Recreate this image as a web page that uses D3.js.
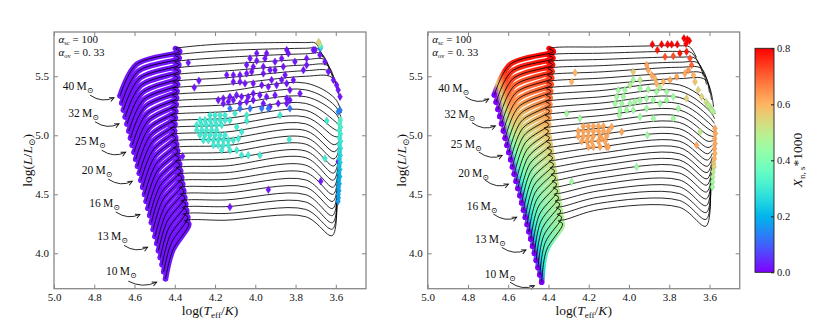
<!DOCTYPE html>
<html>
<head>
<meta charset="utf-8">
<script src="https://cdn.jsdelivr.net/npm/d3@7"></script>
<style>
  body { margin: 0; background: #fff; }
  svg { display: block; }
  text { font-family: "Liberation Serif", "DejaVu Serif", serif; fill: #111; }
</style>
</head>
<body>
<div id="chart"></div>
<script>
// axis ticks
const logTTicks = [5.0, 4.8, 4.6, 4.4, 4.2, 4.0, 3.8, 3.6];
const logLTicks = [4.0, 4.5, 5.0, 5.5];
const cbarTicks = [0.0, 0.2, 0.4, 0.6, 0.8];

// evolutionary tracks, 10 -> 40 Msun (key points)
const zamsT = [4.446,4.455,4.463,4.472,4.481,4.489,4.498,4.507,4.516,4.524,4.533,4.542,4.550,4.559,4.568,4.576,4.585,4.594,4.602,4.611,4.620,4.628,4.637,4.646,4.655,4.663,4.672];
const zamsL = [3.784,3.844,3.903,3.963,4.022,4.082,4.142,4.201,4.261,4.320,4.380,4.440,4.499,4.559,4.618,4.678,4.738,4.797,4.857,4.916,4.976,5.036,5.095,5.155,5.214,5.274,5.334];
const midT  = [4.410,4.417,4.424,4.431,4.438,4.444,4.451,4.459,4.466,4.472,4.479,4.487,4.493,4.500,4.507,4.514,4.521,4.528,4.534,4.541,4.549,4.555,4.562,4.569,4.576,4.583,4.590];
const midL  = [4.026,4.088,4.148,4.210,4.270,4.332,4.393,4.453,4.515,4.575,4.636,4.697,4.757,4.818,4.878,4.939,4.999,5.059,5.120,5.180,5.240,5.301,5.360,5.421,5.480,5.541,5.601];
const tamsT = [4.330,4.335,4.340,4.345,4.350,4.355,4.360,4.365,4.370,4.375,4.380,4.385,4.390,4.395,4.400,4.398,4.396,4.394,4.392,4.390,4.388,4.385,4.383,4.381,4.379,4.377,4.375];
const tamsL = [4.250,4.306,4.362,4.418,4.475,4.531,4.587,4.643,4.699,4.755,4.811,4.868,4.924,4.980,5.036,5.092,5.148,5.204,5.261,5.316,5.373,5.429,5.485,5.541,5.597,5.653,5.710];
const hookShift = [[0.022, 0.025], [-0.012, 0.035]];
const crossT = [4.15, 3.75];
const crossLa = [4.280,4.337,4.395,4.452,4.510,4.567,4.625,4.682,4.740,4.797,4.855,4.912,4.970,5.027,5.085,5.142,5.200,5.257,5.315,5.372,5.430,5.487,5.545,5.602,5.660,5.717,5.775];
const crossLb = [4.310,4.372,4.435,4.497,4.560,4.622,4.685,4.747,4.810,4.867,4.925,4.982,5.040,5.097,5.155,5.212,5.270,5.327,5.385,5.442,5.500,5.547,5.595,5.642,5.690,5.737,5.785];
const minT = [3.618,3.617,3.616,3.616,3.615,3.614,3.613,3.612,3.612,3.611,3.610,3.609,3.608,3.608,3.607,3.606,3.605,3.604,3.604,3.603,3.620,3.630,3.640,3.655,3.670,3.690,3.700];
const minL = [4.150,4.205,4.260,4.320,4.380,4.440,4.500,4.560,4.620,4.680,4.740,4.800,4.860,4.920,4.990,5.050,5.120,5.190,5.250,5.310,5.490,5.540,5.590,5.640,5.690,5.735,5.780];
const endT = [3.595,3.594,3.593,3.592,3.591,3.590,3.589,3.588,3.587,3.586,3.585,3.584,3.583,3.582,3.580,3.578,3.577,3.576,3.574,3.572,3.580,3.590,3.600,3.615,3.630,3.645,3.665];
const endL = [4.430,4.470,4.510,4.550,4.590,4.630,4.670,4.710,4.750,4.790,4.830,4.870,4.910,4.950,4.990,5.030,5.070,5.110,5.150,5.190,5.300,5.360,5.420,5.480,5.540,5.600,5.660];

// right panel tracks differ a little (ZAMS and post-MS luminosity)
const rZamsT = [4.434,4.443,4.452,4.461,4.470,4.479,4.488,4.497,4.506,4.515,4.524,4.533,4.542,4.552,4.561,4.570,4.579,4.588,4.597,4.606,4.615,4.624,4.633,4.642,4.651,4.660,4.669];
const rZamsL = [3.755,3.816,3.877,3.938,3.999,4.060,4.121,4.182,4.243,4.304,4.365,4.426,4.487,4.548,4.609,4.670,4.731,4.792,4.853,4.914,4.975,5.036,5.097,5.158,5.219,5.280,5.341];
const rCrossLa = [4.370,4.423,4.476,4.529,4.582,4.635,4.688,4.741,4.794,4.847,4.900,4.953,5.006,5.059,5.112,5.165,5.218,5.271,5.324,5.377,5.430,5.483,5.536,5.589,5.642,5.695,5.748];
const rCrossLb = [4.390,4.448,4.506,4.564,4.622,4.680,4.738,4.791,4.844,4.897,4.950,5.003,5.056,5.109,5.162,5.215,5.268,5.321,5.374,5.427,5.480,5.528,5.576,5.619,5.662,5.710,5.758];
const rMinL = [4.230,4.288,4.346,4.404,4.462,4.520,4.578,4.631,4.684,4.737,4.790,4.843,4.896,4.949,5.002,5.055,5.108,5.161,5.214,5.267,5.470,5.520,5.565,5.610,5.650,5.700,5.750];
const rEndL = [4.500,4.535,4.570,4.605,4.640,4.675,4.710,4.745,4.780,4.815,4.850,4.885,4.920,4.955,4.990,5.025,5.060,5.100,5.140,5.180,5.240,5.300,5.360,5.430,5.500,5.580,5.660];

// right panel: X_ns*1000 along the main sequence (early / end)
const msValA = [0.30,0.30,0.31,0.31,0.32,0.32,0.33,0.33,0.34,0.35,0.36,0.37,0.38,0.40,0.42,0.44,0.46,0.49,0.52,0.55,0.58,0.62,0.65,0.68,0.71,0.74,0.76];
const msValB = [0.48,0.48,0.49,0.49,0.50,0.50,0.51,0.51,0.52,0.53,0.54,0.55,0.56,0.57,0.58,0.60,0.62,0.64,0.66,0.68,0.70,0.72,0.74,0.76,0.78,0.79,0.80];

// mass labels: text position, arrow start, arrow tip (logT, logL)
const massLabels = ["40", "32", "25", "20", "16", "13", "10"];
const labelT = [4.957,4.929,4.896,4.862,4.825,4.785,4.742];
const labelL = [5.417,5.190,4.950,4.704,4.429,4.146,3.849];
const arrowFromT = [4.821,4.796,4.763,4.730,4.693,4.652,4.631];
const arrowFromL = [5.340,5.114,4.873,4.628,4.350,4.067,3.764];
const arrowToT = [4.702,4.677,4.644,4.611,4.573,4.535,4.490];
const arrowToL = [5.319,5.097,4.856,4.610,4.330,4.052,3.755];
const rLabelT = [4.947,4.917,4.885,4.848,4.806,4.765,4.716];
const rLabelL = [5.402,5.178,4.929,4.683,4.403,4.122,3.827];
const rArrowFromT = [4.813,4.780,4.746,4.715,4.674,4.632,4.591];
const rArrowFromL = [5.327,5.107,4.858,4.620,4.333,4.050,3.755];
const rArrowToT = [4.697,4.664,4.630,4.599,4.558,4.512,4.470];
const rArrowToL = [5.307,5.079,4.830,4.586,4.305,4.028,3.726];

// post-MS samples, left panel: [logT, logL, value]
const leftPts = [
  [4.333,5.615,0.02],[4.280,5.462,0.02],[4.303,5.405,0.02],[4.361,4.822,0.02],[4.126,4.392,0.02],[3.935,4.539,0.02],[3.675,4.610,0.02],[3.588,4.780,0.02],
  [3.993,5.694,0.02],[3.944,5.694,0.02],[3.844,5.722,0.02],[3.836,5.694,0.02],[3.712,5.722,0.02],[3.745,5.651,0.02],[3.803,5.623,0.02],[3.869,5.651,0.02],
  [3.902,5.623,0.02],[3.952,5.651,0.02],[3.993,5.632,0.02],[4.026,5.651,0.02],[4.043,5.595,0.02],[4.010,5.581,0.02],[3.960,5.581,0.02],[3.927,5.552,0.02],
  [3.902,5.552,0.02],[3.861,5.581,0.02],[3.761,5.552,0.02],[3.745,5.595,0.02],
  [4.142,5.510,0.02],[4.109,5.510,0.02],[4.076,5.510,0.02],[4.043,5.524,0.02],[4.018,5.538,0.02],[3.960,5.524,0.02],[3.919,5.468,0.02],[3.869,5.468,0.02],
  [3.852,5.510,0.02],[3.811,5.468,0.02],
  [4.109,5.453,0.02],[4.076,5.453,0.02],[4.051,5.439,0.02],[4.010,5.439,0.02],[3.968,5.425,0.02],[3.935,5.411,0.02],[3.894,5.425,0.02],[3.844,5.439,0.02],
  [3.828,5.383,0.02],[3.778,5.354,0.02],
  [4.184,5.298,0.02],[4.159,5.312,0.02],[4.126,5.326,0.02],[4.093,5.340,0.02],[4.068,5.326,0.02],[4.035,5.326,0.02],[4.010,5.354,0.02],[3.977,5.340,0.02],
  [3.944,5.326,0.02],[3.902,5.340,0.02],[3.844,5.312,0.02],[3.828,5.298,0.02],
  [4.159,5.269,0.02],[4.134,5.284,0.02],[4.109,5.298,0.02],[4.076,5.269,0.02],[4.043,5.284,0.02],[4.010,5.298,0.02],[3.960,5.269,0.02],[3.927,5.241,0.02],
  [3.886,5.269,0.02],[3.844,5.269,0.02],
  [3.703,5.722,0.02],[3.679,5.680,0.02],[3.654,5.623,0.02],[3.637,5.538,0.02],[3.612,5.468,0.02],[3.596,5.425,0.02],[3.588,5.383,0.02],[3.579,5.326,0.02],
  [4.126,5.227,0.12],[4.076,5.227,0.12],[4.026,5.227,0.12],[3.968,5.227,0.12],[3.935,5.227,0.12],[3.828,5.227,0.12],[3.579,5.213,0.14],[3.588,5.199,0.14],
  [4.225,5.170,0.3],[4.200,5.170,0.3],[4.175,5.170,0.3],[4.150,5.170,0.3],
  [4.275,5.128,0.3],[4.250,5.128,0.3],[4.225,5.128,0.3],[4.200,5.128,0.3],[4.175,5.128,0.3],[4.150,5.128,0.3],[4.126,5.128,0.3],
  [4.291,5.086,0.3],[4.266,5.086,0.3],[4.242,5.086,0.3],[4.217,5.086,0.3],[4.192,5.086,0.3],[4.167,5.086,0.3],
  [4.291,5.043,0.3],[4.266,5.043,0.3],[4.242,5.043,0.3],[4.217,5.043,0.3],[4.192,5.043,0.3],
  [4.275,5.001,0.3],[4.250,5.001,0.3],[4.225,5.001,0.3],[4.200,5.001,0.3],[4.175,5.001,0.3],[4.150,5.001,0.3],
  [4.258,4.958,0.3],[4.233,4.958,0.3],[4.208,4.958,0.3],[4.184,4.958,0.3],[4.159,4.958,0.3],[4.134,4.958,0.3],[4.109,4.958,0.3],
  [4.208,4.916,0.3],[4.184,4.916,0.3],[4.159,4.916,0.3],[4.134,4.916,0.3],
  [4.167,4.873,0.3],[4.126,4.873,0.3],[4.092,4.873,0.3],
  [4.068,4.831,0.3],[4.035,4.831,0.3],[3.977,4.831,0.3],
  [4.101,5.185,0.3],[4.043,5.170,0.3],[4.043,5.122,0.3],[4.092,5.071,0.3],[4.068,5.029,0.3],[4.084,4.972,0.3],[3.877,5.170,0.3],[3.831,4.964,0.3],
  [3.645,5.122,0.3],[3.654,4.803,0.3],
  [3.577,5.13,0.33],[3.582,5.10,0.33],[3.576,5.07,0.32],[3.583,5.04,0.31],[3.577,5.01,0.31],[3.582,4.98,0.30],[3.576,4.95,0.30],[3.583,4.92,0.29],
  [3.577,4.89,0.28],[3.582,4.86,0.27],[3.578,4.83,0.26],[3.583,4.80,0.25],[3.579,4.77,0.24],[3.584,4.74,0.23],[3.580,4.71,0.22],[3.585,4.68,0.21],
  [3.581,4.65,0.20],[3.586,4.62,0.20],[3.583,4.59,0.19],[3.587,4.56,0.19],[3.585,4.53,0.18],[3.588,4.50,0.18],[3.587,4.47,0.18],[3.589,4.44,0.17],
  [3.678,5.735,0.15],[3.675,5.750,0.30],[3.680,5.770,0.45],[3.685,5.790,0.55]
];

// post-MS samples, right panel: [logT, logL, value]
const rightPts = [
  [3.884,5.770,0.8],[3.838,5.770,0.8],[3.808,5.770,0.8],[3.788,5.770,0.8],[3.760,5.770,0.8],[3.717,5.775,0.8],[3.727,5.821,0.8],[3.710,5.813,0.8],
  [3.700,5.801,0.8],[3.859,5.722,0.78],[3.747,5.694,0.78],[3.714,5.708,0.78],
  [3.821,5.665,0.72],[3.780,5.671,0.72],[3.697,5.651,0.72],[3.689,5.595,0.7],
  [3.912,5.595,0.62],[3.904,5.552,0.62],[3.887,5.510,0.62],[3.871,5.482,0.6],[3.863,5.439,0.6],[3.829,5.453,0.6],[3.796,5.468,0.62],[3.763,5.496,0.62],
  [3.722,5.524,0.62],[3.705,5.552,0.64],[3.680,5.510,0.6],[3.672,5.453,0.58],
  [3.656,5.383,0.55],[3.639,5.326,0.55],[3.618,5.284,0.52],[3.598,5.241,0.5],[3.581,5.199,0.48],[3.589,5.213,0.48],[3.606,5.255,0.5],
  [3.979,5.538,0.56],[3.945,5.468,0.5],[3.979,5.468,0.45],[3.995,5.425,0.48],[3.945,5.397,0.45],[3.904,5.389,0.45],[3.863,5.369,0.45],[3.846,5.405,0.5],
  [3.813,5.369,0.45],[3.780,5.326,0.45],[3.714,5.312,0.55],[4.053,5.383,0.45],[4.020,5.383,0.45],[4.061,5.326,0.45],[4.028,5.326,0.45],[4.069,5.269,0.45],
  [4.036,5.269,0.45],[3.995,5.269,0.45],[3.970,5.284,0.45],[3.945,5.298,0.45],[3.912,5.312,0.45],[3.879,5.298,0.45],[3.846,5.269,0.45],[3.813,5.298,0.45],
  [3.755,5.227,0.45],[4.045,5.213,0.45],[4.012,5.213,0.45],[3.979,5.213,0.45],[3.945,5.156,0.45],[3.912,5.227,0.45],[3.879,5.142,0.45],[3.780,5.142,0.45],
  [4.048,5.170,0.45],
  [4.268,5.530,0.6],[4.285,5.453,0.6],[4.310,5.185,0.45],[4.244,5.142,0.45],[4.285,4.605,0.45],[3.962,4.732,0.45],[3.909,5.001,0.45],[3.647,5.029,0.5],
  [3.664,4.916,0.62],
  [4.227,5.077,0.62],[4.202,5.077,0.62],[4.177,5.077,0.62],[4.152,5.077,0.62],[4.127,5.077,0.62],
  [4.252,5.035,0.62],[4.227,5.035,0.62],[4.202,5.035,0.62],[4.177,5.035,0.62],[4.152,5.035,0.62],[4.127,5.035,0.62],[4.102,5.035,0.62],
  [4.252,4.992,0.62],[4.227,4.992,0.62],[4.202,4.992,0.62],[4.177,4.992,0.62],[4.144,4.992,0.62],[4.111,4.992,0.62],
  [4.235,4.950,0.62],[4.210,4.950,0.62],[4.185,4.950,0.62],[4.152,4.950,0.62],[4.119,4.950,0.62],
  [4.202,4.902,0.62],[4.177,4.902,0.62],[4.144,4.902,0.62],[4.111,4.902,0.62],
  [4.086,5.071,0.62],[4.036,5.029,0.62],[4.103,4.902,0.62],[4.136,4.972,0.62],
  [3.573,5.057,0.62],[3.571,5.015,0.62],[3.574,4.972,0.62],[3.572,4.930,0.62],[3.575,4.887,0.62],[3.573,4.845,0.6],[3.576,4.802,0.6],[3.580,4.760,0.58],
  [3.578,4.732,0.55],[3.582,4.690,0.5],[3.584,4.647,0.48],[3.585,4.605,0.46],[3.586,4.562,0.45]
];

// matplotlib "rainbow", normalised to 0 .. 0.8
function cmap(v) {
  const t = Math.max(0, Math.min(1, v / 0.8));
  const c = u => Math.round(255 * Math.max(0, Math.min(1, u)));
  return d3.rgb(c(Math.abs(2 * t - 0.5)), c(Math.sin(Math.PI * t)), c(Math.cos(Math.PI * t / 2))).formatHex();
}

const W = 830, H = 321;
const yTop = 32, yBot = 288.7;
const panels = [
  { x0: 54, x1: 366, pts: leftPts, colored: false,
    zT: zamsT, zL: zamsL, cLa: crossLa, cLb: crossLb, mL: minL, eL: endL,
    lab: [labelT, labelL, arrowFromT, arrowFromL, arrowToT, arrowToL] },
  { x0: 427.7, x1: 739.7, pts: rightPts, colored: true,
    zT: rZamsT, zL: rZamsL, cLa: rCrossLa, cLb: rCrossLb, mL: rMinL, eL: rEndL,
    lab: [rLabelT, rLabelL, rArrowFromT, rArrowFromL, rArrowToT, rArrowToL] }
];

function trackPts(p, i) {
  return [
    [p.zT[i], p.zL[i]],
    [midT[i], midL[i]],
    [tamsT[i], tamsL[i]],
    [tamsT[i] + hookShift[0][0], tamsL[i] + hookShift[0][1]],
    [tamsT[i] + hookShift[1][0], tamsL[i] + hookShift[1][1]],
    [crossT[0], p.cLa[i]],
    [crossT[1], p.cLb[i]],
    [minT[i], p.mL[i]],
    [endT[i], p.eL[i]]
  ];
}

const svg = d3.select("#chart").append("svg")
  .attr("width", W).attr("height", H);
const defs = svg.append("defs");

// arrow head for the mass labels
defs.append("marker")
  .attr("id", "arrowhead")
  .attr("viewBox", "-6 -4 8 8")
  .attr("markerWidth", 8).attr("markerHeight", 8)
  .attr("markerUnits", "userSpaceOnUse")
  .attr("orient", "auto")
  .append("path")
  .attr("d", "M-4.5,-2.2L0,0L-4.5,2.2")
  .attr("fill", "none").attr("stroke", "#111").attr("stroke-width", 0.9);

const diamond = "M0,-3.8L2.4,0L0,3.8L-2.4,0Z";

panels.forEach((p, pi) => {
  const x = d3.scaleLinear().domain([5.0, 3.45]).range([p.x0, p.x1]);
  const y = d3.scaleLinear().domain([3.7, 5.875]).range([yBot, yTop]);
  const line = d3.line().x(d => x(d[0])).y(d => y(d[1])).curve(d3.curveCatmullRom.alpha(0.5));

  defs.append("clipPath").attr("id", "clip" + pi)
    .append("rect").attr("x", p.x0).attr("y", yTop).attr("width", p.x1 - p.x0).attr("height", yBot - yTop);

  const g = svg.append("g").attr("clip-path", `url(#clip${pi})`);

  // main-sequence bands
  p.zT.forEach((_, i) => {
    const pts = trackPts(p, i);
    let stroke = cmap(0.02);
    if (p.colored) {
      const gid = `grad${pi}_${i}`;
      const grad = defs.append("linearGradient").attr("id", gid)
        .attr("gradientUnits", "userSpaceOnUse")
        .attr("x1", x(p.zT[i])).attr("y1", y(p.zL[i]))
        .attr("x2", x(tamsT[i])).attr("y2", y(tamsL[i]));
      [[0, 0], [0.12, msValA[i] * 0.75], [0.3, msValA[i]], [1, msValB[i]]].forEach(s => {
        grad.append("stop").attr("offset", s[0]).attr("stop-color", cmap(s[1]));
      });
      stroke = `url(#${gid})`;
    }
    g.append("path")
      .attr("d", line(pts.slice(0, 4)))
      .attr("fill", "none")
      .attr("stroke", stroke)
      .attr("stroke-width", 5.5)
      .attr("stroke-linecap", "round")
      .attr("stroke-linejoin", "round");
  });

  // ZAMS dots
  g.selectAll("circle.zams").data(p.zT).join("circle")
    .attr("class", "zams")
    .attr("cx", d => x(d))
    .attr("cy", (d, i) => y(p.zL[i]))
    .attr("r", 2.7)
    .attr("fill", cmap(p.colored ? 0 : 0.02));

  // tracks
  p.zT.forEach((_, i) => {
    g.append("path")
      .attr("d", line(trackPts(p, i)))
      .attr("fill", "none")
      .attr("stroke", "#000")
      .attr("stroke-width", 0.85);
  });

  // post-MS samples
  g.selectAll("path.pt").data(p.pts).join("path")
    .attr("class", "pt")
    .attr("d", diamond)
    .attr("transform", d => `translate(${x(d[0])},${y(d[1])})`)
    .attr("fill", d => cmap(d[2]))
    .attr("stroke", d => d3.rgb(cmap(d[2])).darker(0.6))
    .attr("stroke-width", 0.4);

  // mass labels with arrows
  const [lT, lL, fT, fL, tT, tL] = p.lab;
  massLabels.forEach((m, k) => {
    const sx = x(fT[k]), sy = y(fL[k]);
    const tx = x(tT[k]), ty = y(tL[k]);
    const cx = (sx + tx) / 2, cy = (sy + ty) / 2 + 7;
    svg.append("path")
      .attr("d", `M${sx},${sy}Q${cx},${cy} ${tx},${ty}`)
      .attr("fill", "none").attr("stroke", "#111").attr("stroke-width", 0.9)
      .attr("marker-end", "url(#arrowhead)");
    const t = svg.append("text")
      .attr("x", x(lT[k])).attr("y", y(lL[k]))
      .attr("dy", "0.35em")
      .style("font-size", "11.5px");
    t.append("tspan").text(m + "\u2009M");
    t.append("tspan").attr("dy", 3).style("font-size", "8px").text("\u2299");
  });

  // axes (ticks inward on all sides)
  const fmt = d3.format(".1f");
  const axB = svg.append("g").attr("transform", `translate(0,${yBot})`)
    .call(d3.axisBottom(x).tickValues(logTTicks).tickFormat(fmt).tickSize(-4).tickPadding(5));
  const axT = svg.append("g").attr("transform", `translate(0,${yTop})`)
    .call(d3.axisTop(x).tickValues(logTTicks).tickFormat("").tickSize(-4));
  const axL = svg.append("g").attr("transform", `translate(${p.x0},0)`)
    .call(d3.axisLeft(y).tickValues(logLTicks).tickFormat(fmt).tickSize(-4).tickPadding(5));
  const axR = svg.append("g").attr("transform", `translate(${p.x1},0)`)
    .call(d3.axisRight(y).tickValues(logLTicks).tickFormat("").tickSize(-4));
  [axB, axT, axL, axR].forEach(a => {
    a.select(".domain").remove();
    a.selectAll(".tick line").attr("stroke", "#777").attr("stroke-width", 0.9);
    a.selectAll(".tick text").style("font-size", "11px").attr("fill", "#111")
      .style("font-family", '"Liberation Serif", serif');
  });

  svg.append("rect")
    .attr("x", p.x0).attr("y", yTop)
    .attr("width", p.x1 - p.x0).attr("height", yBot - yTop)
    .attr("fill", "none").attr("stroke", "#888").attr("stroke-width", 1.3);

  // alpha annotations
  const a1 = svg.append("text").attr("x", p.x0 + 4.5).attr("y", yTop + 11).style("font-size", "11px");
  a1.append("tspan").style("font-style", "italic").text("\u03b1");
  a1.append("tspan").attr("dy", 1.5).style("font-size", "6.5px").text("sc");
  a1.append("tspan").attr("dy", -1.5).text(" = 100");
  const a2 = svg.append("text").attr("x", p.x0 + 4.5).attr("y", yTop + 24).style("font-size", "11px");
  a2.append("tspan").style("font-style", "italic").text("\u03b1");
  a2.append("tspan").attr("dy", 1.5).style("font-size", "6.5px").text("ov");
  a2.append("tspan").attr("dy", -1.5).text(" = 0. 33");

  // axis labels
  const xl = svg.append("text")
    .attr("x", (p.x0 + p.x1) / 2).attr("y", 315)
    .attr("text-anchor", "middle").style("font-size", "13.5px");
  xl.append("tspan").text("log(");
  xl.append("tspan").style("font-style", "italic").text("T");
  xl.append("tspan").attr("dy", 3).style("font-size", "9px").text("eff");
  xl.append("tspan").attr("dy", -3).text("/");
  xl.append("tspan").style("font-style", "italic").text("K");
  xl.append("tspan").text(")");

  const yl = svg.append("text")
    .attr("transform", `translate(${p.x0 - 22},${(yTop + yBot) / 2}) rotate(-90)`)
    .attr("text-anchor", "middle").style("font-size", "13.5px");
  yl.append("tspan").text("log(");
  yl.append("tspan").style("font-style", "italic").text("L");
  yl.append("tspan").text("/");
  yl.append("tspan").style("font-style", "italic").text("L");
  yl.append("tspan").attr("dy", 3).style("font-size", "9px").text("\u2299");
  yl.append("tspan").attr("dy", -3).text(")");
});

// colour bar
const cbX = 755, cbW = 19, cbTop = 48.3, cbBot = 272.3;
const cg = defs.append("linearGradient").attr("id", "cbar")
  .attr("x1", 0).attr("y1", 1).attr("x2", 0).attr("y2", 0);
d3.range(0, 1.0001, 0.05).forEach(t => {
  cg.append("stop").attr("offset", t).attr("stop-color", cmap(t * 0.8));
});
svg.append("rect")
  .attr("x", cbX).attr("y", cbTop).attr("width", cbW).attr("height", cbBot - cbTop)
  .attr("fill", "url(#cbar)").attr("stroke", "#222").attr("stroke-width", 0.9);
const cy = d3.scaleLinear().domain([0, 0.8]).range([cbBot, cbTop]);
const cax = svg.append("g").attr("transform", `translate(${cbX + cbW},0)`)
  .call(d3.axisRight(cy).tickValues(cbarTicks).tickFormat(d3.format(".1f")).tickSize(-3).tickPadding(3));
cax.select(".domain").remove();
cax.selectAll(".tick line").attr("stroke", "#222");
cax.selectAll(".tick text").style("font-size", "10.5px").attr("fill", "#111")
  .style("font-family", '"Liberation Serif", serif');

const cl = svg.append("text")
  .attr("transform", `translate(802,160) rotate(-90)`)
  .attr("text-anchor", "middle").style("font-size", "13.5px");
cl.append("tspan").style("font-style", "italic").text("X");
cl.append("tspan").attr("dy", 3).style("font-size", "9px").text("n, s");
cl.append("tspan").attr("dy", -3).text("*1000");
</script>
</body>
</html>
